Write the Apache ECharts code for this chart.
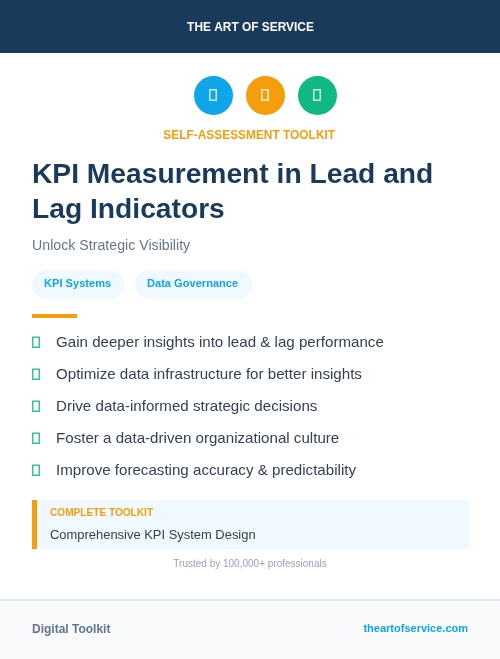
<!DOCTYPE html>
<html>
<head>
<meta charset="utf-8">
<style>
	html, body { margin: 0; padding: 0; background: #fff; }
	#main { width: 500px; height: 659px; }
</style>
<script src="https://cdn.jsdelivr.net/npm/echarts@6/dist/echarts.min.js"></script>
</head>
<body>
<div id="main"></div>
<script>
var brandName = "THE ART OF SERVICE";
var kicker = "SELF-ASSESSMENT TOOLKIT";
var titleLines = ["KPI Measurement in Lead and", "Lag Indicators"];
var subtitle = "Unlock Strategic Visibility";
var tags = ["KPI Systems", "Data Governance"];
var bullets = [
	"Gain deeper insights into lead & lag performance",
	"Optimize data infrastructure for better insights",
	"Drive data-informed strategic decisions",
	"Foster a data-driven organizational culture",
	"Improve forecasting accuracy & predictability"
];
var boxLabel = "COMPLETE TOOLKIT";
var boxText = "Comprehensive KPI System Design";
var trustedText = "Trusted by 100,000+ professionals";
var footerLeft = "Digital Toolkit";
var footerRight = "theartofservice.com";

var FONT = "'Liberation Sans', Arial, sans-serif";
var NAVY = "#1a3a5c", SKY = "#0ea5e9", AMBER = "#f59e0b", GREEN = "#10b981", PALE = "#f0f9ff";

function box(x, y, w, h, fill, r) {
	return { type: "rect", shape: { x: x, y: y, width: w, height: h, r: r || 0 }, style: { fill: fill } };
}
// stretch nudges the text width to what the reference measures
function label(text, x, y, size, weight, color, align, stretch) {
	return {
		type: "text", x: x, y: y, scaleX: stretch || 1,
		style: {
			text: text, fill: color, font: weight + " " + size + "px " + FONT,
			align: align || "left", verticalAlign: "middle"
		}
	};
}
// the icon font never loaded in the original, so its glyphs show as empty boxes
function tofu(x, y, w, h, color, alpha) {
	return {
		type: "rect", shape: { x: x, y: y, width: w, height: h },
		style: { fill: "none", stroke: color, lineWidth: 1.5, opacity: alpha }
	};
}

var elements = [];
elements.push(box(0, 0, 500, 53, NAVY));
elements.push(label(brandName, 250.5, 28, 12, 700, "#fff", "center", 0.992));

[SKY, AMBER, GREEN].forEach(function(color, i) {
	var cx = 213.5 + i * 52;
	elements.push({ type: "circle", shape: { cx: cx, cy: 95.5, r: 19.5 }, style: { fill: color } });
	elements.push(tofu(cx - 3.75, 89.75, 6.5, 10.5, "#fff", 0.8));
});
elements.push(label(kicker, 249.2, 136, 12, 700, AMBER, "center", 0.992));

titleLines.forEach(function(line, i) {
	elements.push(label(line, 32, 175 + i * 35, 28, 700, NAVY, "left", 1.0075));
});
elements.push(label(subtitle, 32, 246, 14, 400, "#64748b", "left", 1.013));

var pills = [{ x: 32, w: 92 }, { x: 135, w: 117 }];
tags.forEach(function(tag, i) {
	elements.push(box(pills[i].x, 270, pills[i].w, 29, PALE, 14.5));
	elements.push(label(tag, pills[i].x + 12, 284, 11, 700, SKY, "left", 1.008));
});
elements.push(box(32, 314, 45, 4, AMBER));

bullets.forEach(function(text, i) {
	var cy = 342 + i * 32;
	elements.push(tofu(32.75, cy - 4.75, 6.5, 10, GREEN, 0.85));
	elements.push(label(text, 56, cy + 1, 15, 400, "#334155", "left", 1.008));
});

elements.push(box(32, 500, 437, 49, PALE));
elements.push(box(32, 500, 5, 49, AMBER));
elements.push(label(boxLabel, 50, 513, 10, 700, AMBER, "left", 1.01));
elements.push(label(boxText, 50, 535, 13, 400, "#334155", "left", 0.995));
elements.push(label(trustedText, 250, 564, 10, 400, "#94a3b8", "center"));

elements.push(box(0, 599, 500, 60, "#f8fafc"));
elements.push(box(0, 599, 500, 2, "#e2e8f0"));
elements.push(label(footerLeft, 32, 630, 12, 700, "#64748b"));
elements.push(label(footerRight, 468, 629, 11, 700, SKY, "right"));

var myChart = echarts.init(document.getElementById("main"));
myChart.setOption({
	backgroundColor: "#fff",
	animation: false,
	graphic: { elements: elements }
});
</script>
</body>
</html>
